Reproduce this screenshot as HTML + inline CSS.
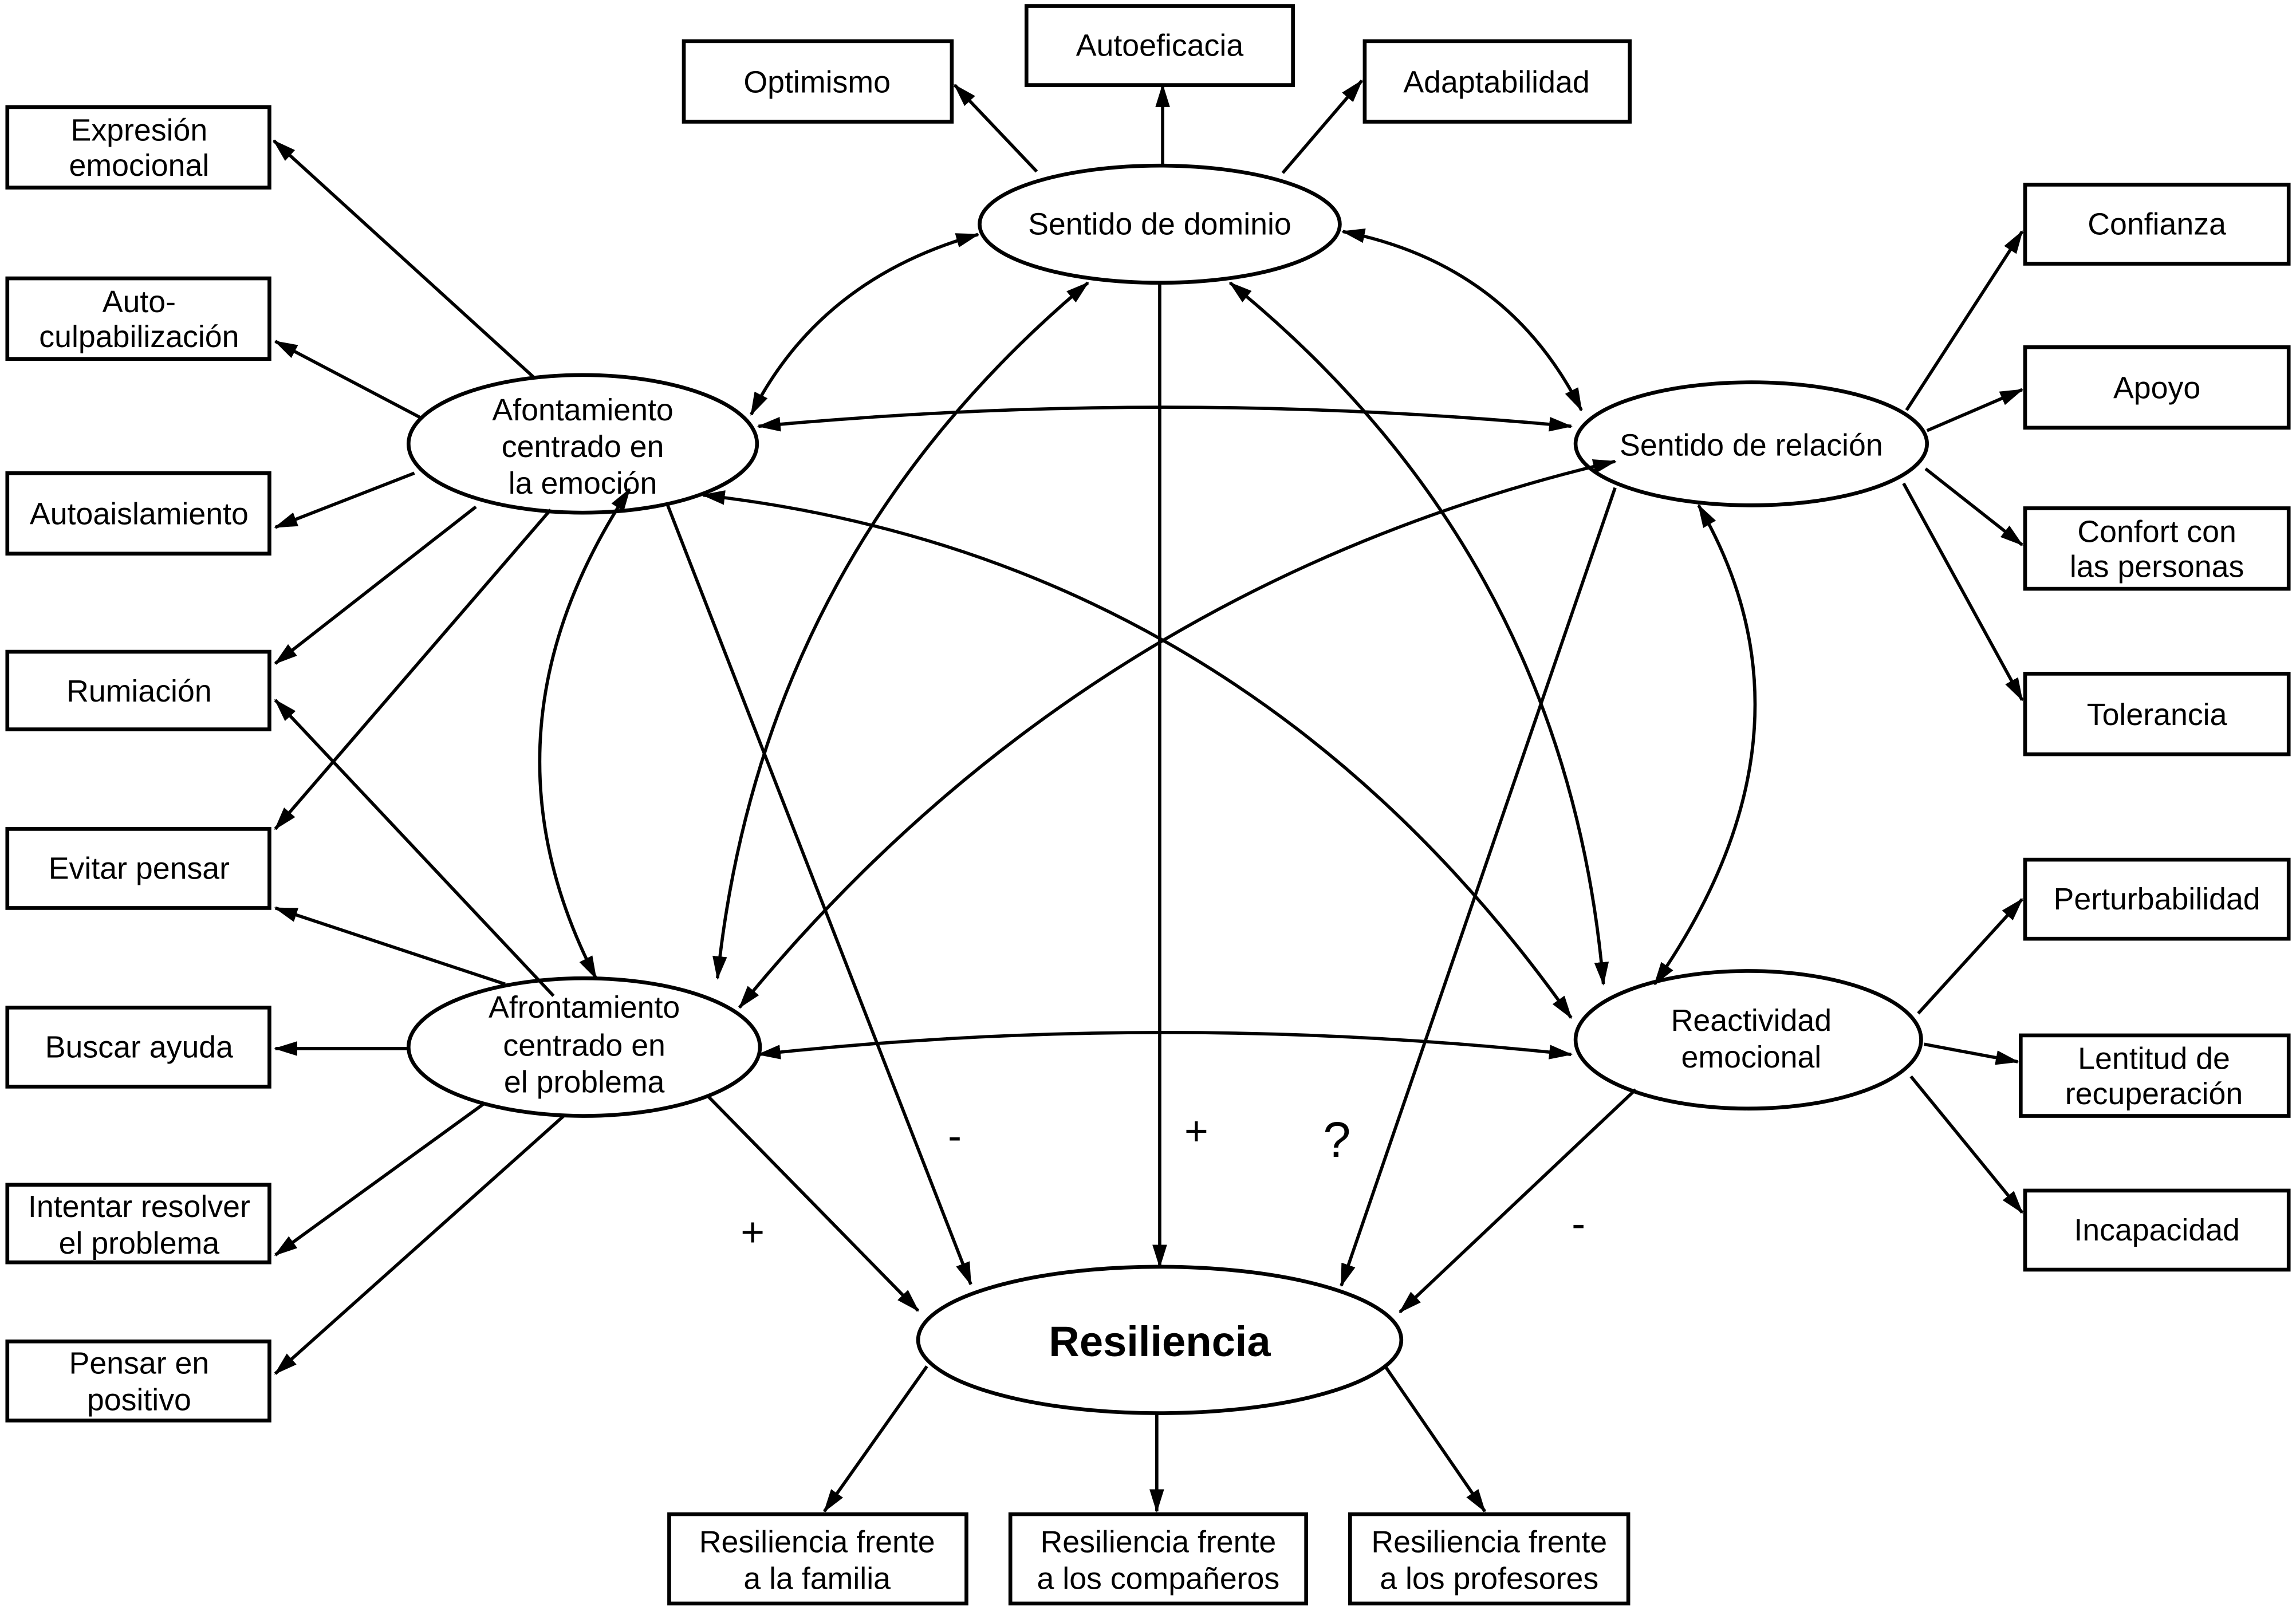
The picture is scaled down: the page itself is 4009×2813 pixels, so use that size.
<!DOCTYPE html>
<html><head><meta charset="utf-8"><style>
html,body{margin:0;padding:0;background:#fff}
svg{display:block}
text{font-family:"Liberation Sans",Arial,sans-serif;font-size:21px;fill:#000;text-anchor:middle}
</style></head><body>
<svg width="4009" height="2813" viewBox="0 0 1568 1100" xmlns="http://www.w3.org/2000/svg">
<defs>
<marker id="a" viewBox="0 0 16 10" refX="15" refY="5" markerWidth="16" markerHeight="10" markerUnits="userSpaceOnUse" orient="auto-start-reverse">
<path d="M0,0 L16,5 L0,10 Z" fill="#000"/></marker>
</defs>
<g fill="#fff" stroke="#000" stroke-width="2.6">
<rect x="467" y="28" width="183" height="55"/>
<rect x="701" y="4" width="182" height="54"/>
<rect x="932" y="28" width="181" height="55"/>
<rect x="5" y="73" width="179" height="55"/>
<rect x="5" y="190" width="179" height="55"/>
<rect x="5" y="323" width="179" height="55"/>
<rect x="5" y="445" width="179" height="53"/>
<rect x="5" y="566" width="179" height="54"/>
<rect x="5" y="688" width="179" height="54"/>
<rect x="5" y="809" width="179" height="53"/>
<rect x="5" y="916" width="179" height="54"/>
<rect x="1383" y="126" width="180" height="54"/>
<rect x="1383" y="237" width="180" height="55"/>
<rect x="1383" y="347" width="180" height="55"/>
<rect x="1383" y="460" width="180" height="55"/>
<rect x="1383" y="587" width="180" height="54"/>
<rect x="1380" y="707" width="183" height="55"/>
<rect x="1383" y="813" width="180" height="54"/>
<rect x="457" y="1034" width="203" height="61"/>
<rect x="690" y="1034" width="202" height="61"/>
<rect x="922" y="1034" width="190" height="61"/>
<ellipse cx="792" cy="153" rx="123" ry="40"/>
<ellipse cx="398" cy="303" rx="119" ry="47"/>
<ellipse cx="1196" cy="303" rx="120" ry="42"/>
<ellipse cx="399" cy="715" rx="120" ry="47"/>
<ellipse cx="1194" cy="710" rx="118" ry="47"/>
<ellipse cx="792" cy="915" rx="165" ry="50"/>
</g>
<g stroke="#000" stroke-width="2.2" fill="none" marker-end="url(#a)">
<line x1="708" y1="117" x2="652" y2="58"/>
<line x1="794" y1="112" x2="794" y2="58"/>
<line x1="876" y1="118" x2="930" y2="55"/>
<line x1="365" y1="258" x2="187" y2="96"/>
<line x1="287" y1="285" x2="188" y2="233"/>
<line x1="283" y1="323" x2="188" y2="360"/>
<line x1="325" y1="346" x2="188" y2="453"/>
<line x1="376" y1="348" x2="188" y2="566"/>
<line x1="378" y1="680" x2="188" y2="478"/>
<line x1="345" y1="672" x2="188" y2="620"/>
<line x1="279" y1="716" x2="188" y2="716"/>
<line x1="330" y1="754" x2="188" y2="857"/>
<line x1="385" y1="762" x2="188" y2="938"/>
<line x1="1302" y1="280" x2="1381" y2="158"/>
<line x1="1316" y1="294" x2="1381" y2="266"/>
<line x1="1315" y1="320" x2="1381" y2="372"/>
<line x1="1300" y1="330" x2="1381" y2="478"/>
<line x1="1310" y1="692" x2="1381" y2="614"/>
<line x1="1314" y1="713" x2="1378" y2="725"/>
<line x1="1305" y1="735" x2="1381" y2="828"/>
<line x1="633" y1="933" x2="563" y2="1032"/>
<line x1="790" y1="965" x2="790" y2="1032"/>
<line x1="946" y1="933" x2="1014" y2="1032"/>
<line x1="483" y1="748" x2="627" y2="895"/>
<line x1="456" y1="345" x2="663" y2="877"/>
<line x1="792" y1="193" x2="792" y2="865"/>
<line x1="1103" y1="333" x2="916" y2="878"/>
<line x1="1117" y1="744" x2="956" y2="896"/>
</g>
<g stroke="#000" stroke-width="2.2" fill="none" marker-start="url(#a)" marker-end="url(#a)">
<path d="M668,160 Q560,190 513,283"/>
<path d="M917,158 Q1030,180 1080,280"/>
<path d="M518,291 Q795,265 1073,291"/>
<path d="M518,720 Q795,690 1073,720"/>
<path d="M430,334 Q320,500 407,668"/>
<path d="M1160,345 Q1250,500 1130,672"/>
<path d="M743,193 Q520,380 490,668"/>
<path d="M840,193 Q1070,380 1095,672"/>
<path d="M480,338 Q850,380 1073,695"/>
<path d="M1103,315 Q740,400 505,688"/>
</g>
<text x="558" y="63">Optimismo</text>
<text x="792" y="38">Autoeficacia</text>
<text x="1022" y="63">Adaptabilidad</text>
<text x="95" y="96">Expresión</text><text x="95" y="120">emocional</text>
<text x="95" y="213">Auto-</text><text x="95" y="237">culpabilización</text>
<text x="95" y="358">Autoaislamiento</text>
<text x="95" y="479">Rumiación</text>
<text x="95" y="600">Evitar pensar</text>
<text x="95" y="722">Buscar ayuda</text>
<text x="95" y="831">Intentar resolver</text><text x="95" y="856">el problema</text>
<text x="95" y="938">Pensar en</text><text x="95" y="963">positivo</text>
<text x="1473" y="160">Confianza</text>
<text x="1473" y="272">Apoyo</text>
<text x="1473" y="370">Confort con</text><text x="1473" y="394">las personas</text>
<text x="1473" y="495">Tolerancia</text>
<text x="1473" y="621">Perturbabilidad</text>
<text x="1471" y="730">Lentitud de</text><text x="1471" y="754">recuperación</text>
<text x="1473" y="847">Incapacidad</text>
<text x="558" y="1060">Resiliencia frente</text><text x="558" y="1085">a la familia</text>
<text x="791" y="1060">Resiliencia frente</text><text x="791" y="1085">a los compañeros</text>
<text x="1017" y="1060">Resiliencia frente</text><text x="1017" y="1085">a los profesores</text>
<text x="792" y="160">Sentido de dominio</text>
<text x="398" y="287">Afontamiento</text><text x="398" y="312">centrado en</text><text x="398" y="337">la emoción</text>
<text x="1196" y="311">Sentido de relación</text>
<text x="399" y="695">Afrontamiento</text><text x="399" y="721">centrado en</text><text x="399" y="746">el problema</text>
<text x="1196" y="704">Reactividad</text><text x="1196" y="729">emocional</text>
<text x="792" y="926" style="font-size:29px;font-weight:bold">Resiliencia</text>
<text x="652" y="785" style="font-size:28px">-</text>
<text x="817" y="782" style="font-size:28px">+</text>
<text x="913" y="790" style="font-size:34px">?</text>
<text x="514" y="851" style="font-size:28px">+</text>
<text x="1078" y="845" style="font-size:28px">-</text>
</svg>
</body></html>
